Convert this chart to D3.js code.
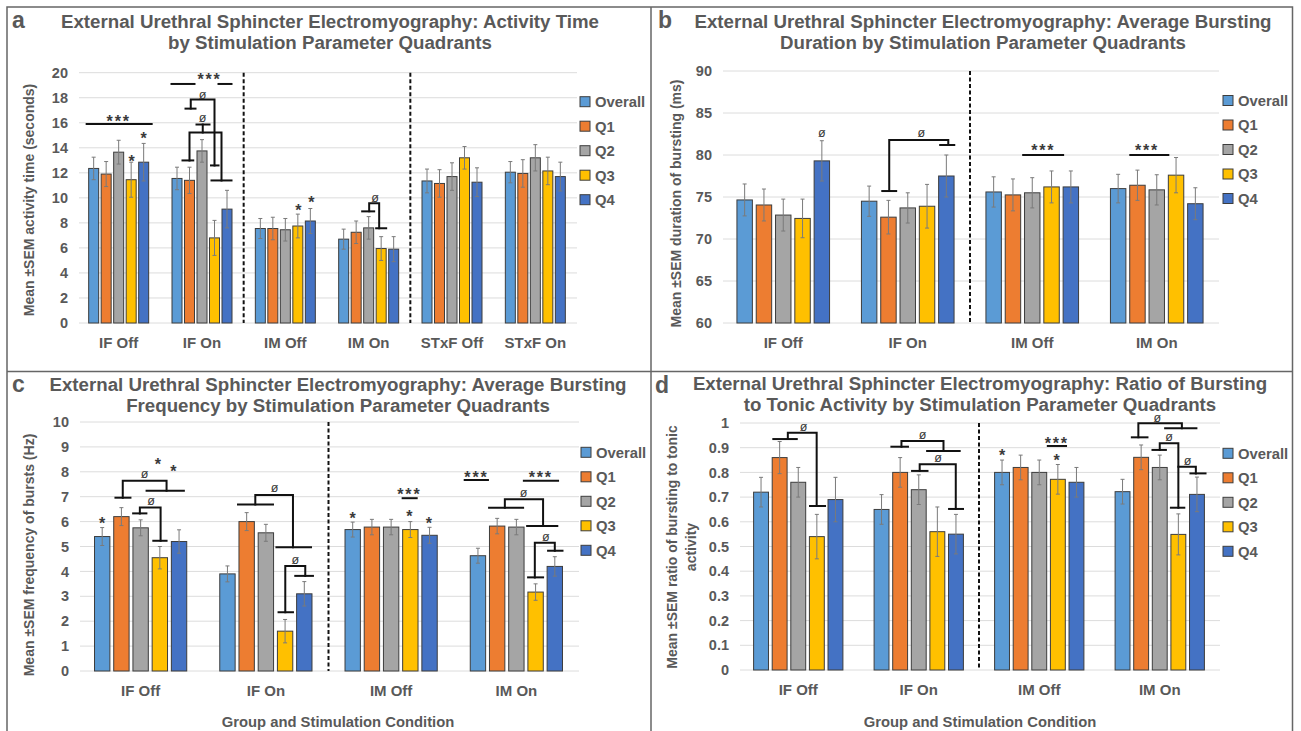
<!DOCTYPE html>
<html>
<head>
<meta charset="utf-8">
<script src="https://cdn.jsdelivr.net/npm/d3@7"></script>
<style>
  body { margin: 0; background: #fff; }
  svg { display: block; font-family: "Liberation Sans", Arial, sans-serif; }
</style>
</head>
<body>
<div id="chart"></div>
<script>
// bar series shared by all four panels
const series = ["Overall", "Q1", "Q2", "Q3", "Q4"];
const seriesColors = ["#5B9BD5", "#ED7D31", "#A5A5A5", "#FFC000", "#4472C4"];

const groupsA = ["IF Off", "IF On", "IM Off", "IM On", "STxF Off", "STxF On"];
const groupsBCD = ["IF Off", "IF On", "IM Off", "IM On"];

// a: activity time (s), one row per group, columns = series
const activityMean = [
  [12.35, 11.9, 13.65, 11.45, 12.85],
  [11.55, 11.4, 13.75, 6.8, 9.1],
  [7.55, 7.55, 7.45, 7.75, 8.15],
  [6.7, 7.25, 7.6, 5.95, 5.9],
  [11.35, 11.15, 11.7, 13.2, 11.25],
  [12.05, 11.95, 13.2, 12.15, 11.7]
];
const activitySem = [
  [0.9, 1.0, 0.95, 1.4, 1.5],
  [0.9, 1.05, 0.9, 1.4, 1.5],
  [0.8, 0.9, 0.9, 0.95, 1.0],
  [0.8, 0.9, 0.9, 0.95, 1.0],
  [0.95, 1.1, 1.1, 0.9, 1.15],
  [0.85, 1.1, 1.05, 1.1, 1.15]
];

// b: bursting duration (ms)
const durationMean = [
  [74.65, 74.05, 72.85, 72.45, 79.3],
  [74.5, 72.6, 73.7, 73.9, 77.5],
  [75.6, 75.25, 75.5, 76.2, 76.2],
  [76.0, 76.4, 75.85, 77.6, 74.2]
];
const durationSem = [
  [1.9, 1.9, 1.9, 2.3, 2.4],
  [1.8, 2.0, 1.8, 2.6, 2.5],
  [1.8, 1.9, 1.8, 1.9, 1.9],
  [1.7, 1.8, 1.8, 2.1, 1.9]
];

// c: bursting frequency (Hz)
const frequencyMean = [
  [5.4, 6.2, 5.75, 4.55, 5.2],
  [3.9, 6.0, 5.55, 1.6, 3.1],
  [5.68, 5.78, 5.78, 5.68, 5.45],
  [4.63, 5.82, 5.78, 3.17, 4.2]
];
const frequencySem = [
  [0.36, 0.36, 0.32, 0.45, 0.47],
  [0.32, 0.36, 0.34, 0.47, 0.49],
  [0.3, 0.31, 0.31, 0.32, 0.32],
  [0.3, 0.31, 0.31, 0.33, 0.39]
];

// d: ratio of bursting to tonic activity
const ratioMean = [
  [0.72, 0.86, 0.76, 0.54, 0.69],
  [0.65, 0.80, 0.73, 0.56, 0.55],
  [0.80, 0.82, 0.80, 0.772, 0.76],
  [0.722, 0.861, 0.82, 0.549, 0.711]
];
const ratioSem = [
  [0.06, 0.065, 0.06, 0.09, 0.09],
  [0.06, 0.06, 0.06, 0.1, 0.08],
  [0.05, 0.05, 0.05, 0.06, 0.06],
  [0.05, 0.05, 0.05, 0.083, 0.07]
];

const ticksA = d3.range(0, 21, 2);
const ticksB = d3.range(60, 91, 5);
const ticksC = d3.range(0, 11, 1);
const ticksD = d3.range(0, 11, 1).map(d => d / 10);

// significance brackets: g = group index, points = [bar position, value]
const bracketsA = [
  {g: 0, pts: [[-0.56, 15.9], [4.64, 15.9]]},
  {g: 1, pts: [[-0.44, 19.1], [1.4, 19.1]]},
  {g: 1, pts: [[3.32, 19.1], [4.36, 19.1]]},
  {g: 1, pts: [[0.68, 17.13], [1.48, 17.13]]},
  {g: 1, pts: [[1.1, 17.13], [1.1, 17.85], [3.0, 17.85], [3.0, 12.59]]},
  {g: 1, pts: [[2.72, 12.59], [3.32, 12.59]]},
  {g: 1, pts: [[1.56, 15.86], [2.6, 15.86]]},
  {g: 1, pts: [[2.06, 15.86], [2.06, 15.22]]},
  {g: 1, pts: [[1.0, 12.99], [1.0, 15.22], [3.56, 15.22], [3.56, 11.39]]},
  {g: 1, pts: [[0.44, 12.99], [1.3, 12.99]]},
  {g: 1, pts: [[2.76, 11.39], [4.36, 11.39]]},
  {g: 3, pts: [[1.48, 8.92], [2.44, 8.92]]},
  {g: 3, pts: [[2.04, 8.92], [2.04, 9.56], [2.84, 9.56], [2.84, 7.57]]},
  {g: 3, pts: [[2.6, 7.57], [3.4, 7.57]]}
];
const marksA = [
  {g: 0, b: 2.0, v: 16.41, t: "***"},
  {g: 0, b: 3.04, v: 13.2, t: "*"},
  {g: 0, b: 4.0, v: 15.0, t: "*"},
  {g: 1, b: 2.6, v: 19.75, t: "***"},
  {g: 1, b: 2.04, v: 18.2, t: "ø"},
  {g: 1, b: 2.04, v: 16.41, t: "ø"},
  {g: 2, b: 3.04, v: 9.24, t: "*"},
  {g: 2, b: 4.08, v: 9.88, t: "*"},
  {g: 3, b: 2.52, v: 9.96, t: "ø"}
];

const bracketsB = [
  {g: 1, pts: [[0.68, 75.71], [1.4, 75.71]]},
  {g: 1, pts: [[1.04, 75.71], [1.04, 81.79], [4.1, 81.79], [4.1, 81.19]]},
  {g: 1, pts: [[3.68, 81.19], [4.41, 81.19]]},
  {g: 2, pts: [[1.53, 80.0], [3.6, 80.0]]},
  {g: 3, pts: [[0.63, 80.0], [2.6, 80.0]]}
];
const marksB = [
  {g: 0, b: 4.0, v: 82.6, t: "ø"},
  {g: 1, b: 2.7, v: 82.6, t: "ø"},
  {g: 2, b: 2.57, v: 80.95, t: "***"},
  {g: 3, b: 1.5, v: 80.95, t: "***"}
];

const bracketsC = [
  {g: 0, pts: [[0.69, 6.96], [1.47, 6.96]]},
  {g: 0, pts: [[1.07, 6.96], [1.07, 7.64], [3.35, 7.64], [3.35, 7.24]]},
  {g: 0, pts: [[2.31, 7.24], [4.25, 7.24]]},
  {g: 0, pts: [[1.61, 6.33], [2.3, 6.33]]},
  {g: 0, pts: [[1.96, 6.33], [1.96, 6.57], [3.04, 6.57], [3.04, 5.23]]},
  {g: 0, pts: [[2.66, 5.23], [3.35, 5.23]]},
  {g: 1, pts: [[0.55, 6.69], [2.37, 6.69]]},
  {g: 1, pts: [[1.45, 6.69], [1.45, 7.07], [3.41, 7.07], [3.41, 4.97]]},
  {g: 1, pts: [[2.55, 4.97], [4.35, 4.97]]},
  {g: 1, pts: [[2.66, 2.36], [3.41, 2.36]]},
  {g: 1, pts: [[3.01, 2.36], [3.01, 4.22], [4.05, 4.22], [4.05, 3.82]]},
  {g: 1, pts: [[3.53, 3.82], [4.45, 3.82]]},
  {g: 2, pts: [[2.6, 6.94], [3.33, 6.94]]},
  {g: 3, pts: [[-0.69, 7.67], [0.52, 7.67]]},
  {g: 3, pts: [[2.39, 7.64], [4.17, 7.64]]},
  {g: 3, pts: [[0.58, 6.56], [2.35, 6.56]]},
  {g: 3, pts: [[1.4, 6.56], [1.4, 6.9], [3.39, 6.9], [3.39, 5.82]]},
  {g: 3, pts: [[2.56, 5.82], [4.13, 5.82]]},
  {g: 3, pts: [[2.61, 3.76], [3.39, 3.76]]},
  {g: 3, pts: [[2.96, 3.76], [2.96, 5.15], [4.0, 5.15], [4.0, 4.83]]},
  {g: 3, pts: [[3.65, 4.83], [4.4, 4.83]]}
];
const marksC = [
  {g: 0, b: 0, v: 6.06, t: "*"},
  {g: 0, b: 2.2, v: 7.9, t: "ø"},
  {g: 0, b: 2.9, v: 8.43, t: "*"},
  {g: 0, b: 3.7, v: 8.14, t: "*"},
  {g: 0, b: 2.55, v: 6.83, t: "ø"},
  {g: 1, b: 2.45, v: 7.34, t: "ø"},
  {g: 1, b: 3.53, v: 4.46, t: "ø"},
  {g: 2, b: 0, v: 6.27, t: "*"},
  {g: 2, b: 2.95, v: 7.23, t: "***"},
  {g: 2, b: 2.95, v: 6.33, t: "*"},
  {g: 2, b: 3.97, v: 6.06, t: "*"},
  {g: 3, b: -0.08, v: 7.9, t: "***"},
  {g: 3, b: 3.27, v: 7.9, t: "***"},
  {g: 3, b: 2.38, v: 7.16, t: "ø"},
  {g: 3, b: 3.53, v: 5.39, t: "ø"}
];

const bracketsD = [
  {g: 0, pts: [[0.66, 0.935], [1.92, 0.935]]},
  {g: 0, pts: [[1.44, 0.935], [1.44, 0.961], [2.99, 0.961], [2.99, 0.664]]},
  {g: 0, pts: [[2.63, 0.664], [3.44, 0.664]]},
  {g: 1, pts: [[0.53, 0.904], [1.42, 0.904]]},
  {g: 1, pts: [[1.07, 0.904], [1.07, 0.927], [3.33, 0.927], [3.33, 0.887]]},
  {g: 1, pts: [[2.45, 0.887], [4.2, 0.887]]},
  {g: 1, pts: [[1.64, 0.806], [2.47, 0.806]]},
  {g: 1, pts: [[2.05, 0.806], [2.05, 0.833], [3.99, 0.833], [3.99, 0.652]]},
  {g: 1, pts: [[3.63, 0.652], [4.38, 0.652]]},
  {g: 2, pts: [[2.46, 0.907], [3.44, 0.907]]},
  {g: 3, pts: [[0.5, 0.942], [1.34, 0.942]]},
  {g: 3, pts: [[0.85, 0.942], [0.85, 0.999], [3.19, 0.999], [3.19, 0.979]]},
  {g: 3, pts: [[2.29, 0.979], [3.97, 0.979]]},
  {g: 3, pts: [[1.61, 0.891], [2.33, 0.891]]},
  {g: 3, pts: [[2.0, 0.891], [2.0, 0.918], [3.0, 0.918], [3.0, 0.657]]},
  {g: 3, pts: [[2.6, 0.657], [3.32, 0.657]]},
  {g: 3, pts: [[3.0, 0.823], [3.94, 0.823], [3.94, 0.796]]},
  {g: 3, pts: [[3.65, 0.796], [4.46, 0.796]]}
];
const marksD = [
  {g: 0, b: 2.28, v: 0.985, t: "ø"},
  {g: 1, b: 2.2, v: 0.951, t: "ø"},
  {g: 1, b: 3.04, v: 0.857, t: "ø"},
  {g: 2, b: 0, v: 0.881, t: "*"},
  {g: 2, b: 2.94, v: 0.93, t: "***"},
  {g: 2, b: 2.94, v: 0.862, t: "*"},
  {g: 3, b: 1.87, v: 1.02, t: "ø"},
  {g: 3, b: 2.5, v: 0.945, t: "ø"},
  {g: 3, b: 3.49, v: 0.846, t: "ø"}
];

const panels = [
  {
    letter: "a", letterPos: [12, 28],
    title: ["External Urethral Sphincter Electromyography: Activity Time", "by Stimulation Parameter Quadrants"],
    titleX: 330, titleY: [28, 49],
    yTitle: ["Mean ±SEM activity time (seconds)"], yTitleX: [34], yTitleY: 200,
    groups: groupsA, mean: activityMean, sem: activitySem,
    domain: [0, 20], ticks: ticksA, fmt: d3.format("d"),
    xRange: [77, 577], yRange: [323, 72.7], pad: 0.25,
    dividers: [2, 4], brackets: bracketsA, marks: marksA,
    legendX: 580, legendY: 101.7, xTitle: null
  },
  {
    letter: "b", letterPos: [658, 28],
    title: ["External Urethral Sphincter Electromyography: Average Bursting", "Duration by Stimulation Parameter Quadrants"],
    titleX: 983, titleY: [28, 49],
    yTitle: ["Mean ±SEM duration of bursting (ms)"], yTitleX: [681], yTitleY: 203.5,
    groups: groupsBCD, mean: durationMean, sem: durationSem,
    domain: [60, 90], ticks: ticksB, fmt: d3.format("d"),
    xRange: [721, 1219], yRange: [323, 71], pad: 0.225,
    dividers: [2], brackets: bracketsB, marks: marksB,
    legendX: 1223, legendY: 100.5, xTitle: null
  },
  {
    letter: "c", letterPos: [12, 392],
    title: ["External Urethral Sphincter Electromyography: Average Bursting", "Frequency by Stimulation Parameter Quadrants"],
    titleX: 338, titleY: [391, 412],
    yTitle: ["Mean ±SEM frequency of bursts (Hz)"], yTitleX: [34], yTitleY: 555,
    groups: groupsBCD, mean: frequencyMean, sem: frequencySem,
    domain: [0, 10], ticks: ticksC, fmt: d3.format("d"),
    xRange: [78, 579], yRange: [671, 422], pad: 0.233,
    dividers: [2], brackets: bracketsC, marks: marksC,
    legendX: 581, legendY: 452.3, xTitle: [338, 727]
  },
  {
    letter: "d", letterPos: [655, 393],
    title: ["External Urethral Sphincter Electromyography: Ratio of Bursting", "to Tonic Activity by Stimulation Parameter Quadrants"],
    titleX: 980, titleY: [390, 411],
    yTitle: ["Mean ±SEM ratio of bursting to tonic", "activity"], yTitleX: [677, 696], yTitleY: 547,
    groups: groupsBCD, mean: ratioMean, sem: ratioSem,
    domain: [0, 1], ticks: ticksD, fmt: d => d3.format("")(+d.toFixed(1)),
    xRange: [738, 1220], yRange: [670, 423], pad: 0.228,
    dividers: [2], brackets: bracketsD, marks: marksD,
    legendX: 1223, legendY: 453.3, xTitle: [980, 727]
  }
];

const textGrey = "#595959";
const svg = d3.select("#chart").append("svg")
  .attr("width", 1301).attr("height", 731);
svg.append("rect").attr("width", 1301).attr("height", 731).attr("fill", "#fff");

// panel frames
const frame = svg.append("g").attr("stroke", "#666").attr("stroke-width", 1.5).attr("fill", "none");
frame.append("path").attr("d", "M7,731V7H1292.5V731");
frame.append("path").attr("d", "M651,7V731");
frame.append("path").attr("d", "M7,371.5H1292.5");

function drawPanel(p) {
  const g = svg.append("g");

  const x0 = d3.scaleBand().domain(p.groups).range(p.xRange)
    .paddingInner(p.pad).paddingOuter(p.pad / 2);
  const x1 = d3.scaleBand().domain(series).range([0, x0.bandwidth()])
    .paddingInner(0.2).paddingOuter(0.1);
  const y = d3.scaleLinear().domain(p.domain).range(p.yRange);
  const bx = (gi, b) => x0(p.groups[gi]) + x1.step() * (b + 0.5);

  // gridlines
  g.append("g").selectAll("line").data(p.ticks).join("line")
    .attr("x1", p.xRange[0] + 2).attr("x2", p.xRange[1])
    .attr("y1", d => y(d)).attr("y2", d => y(d))
    .attr("stroke", "#dcdcdc").attr("stroke-width", 1);

  // y axis labels
  const ya = g.append("g").attr("transform", `translate(${p.xRange[0]},0)`)
    .call(d3.axisLeft(y).tickValues(p.ticks).tickSize(0).tickPadding(9).tickFormat(p.fmt));
  ya.select(".domain").remove();
  ya.selectAll("text").attr("fill", textGrey).style("font-size", "14.5px").style("font-weight", "bold")
    .style("font-family", "'Liberation Sans', Arial, sans-serif");

  // x axis labels
  const xa = g.append("g").attr("transform", `translate(0,${p.yRange[0]})`)
    .call(d3.axisBottom(x0).tickSize(0).tickPadding(14));
  xa.select(".domain").remove();
  xa.selectAll("text").attr("fill", textGrey).style("font-size", "15px").style("font-weight", "bold")
    .style("font-family", "'Liberation Sans', Arial, sans-serif");

  // dashed dividers between stimulation groups
  p.dividers.forEach(k => {
    const xd = (x0(p.groups[k - 1]) + x0.bandwidth() + x0(p.groups[k])) / 2;
    g.append("line").attr("x1", xd).attr("x2", xd)
      .attr("y1", p.yRange[1]).attr("y2", p.yRange[0])
      .attr("stroke", "#111").attr("stroke-width", 2).attr("stroke-dasharray", "4,2.5");
  });

  // bars
  const rows = p.groups.map((grp, gi) => ({grp, gi}));
  const gg = g.append("g").selectAll("g").data(rows).join("g")
    .attr("transform", d => `translate(${x0(d.grp)},0)`);
  gg.selectAll("rect").data(d => series.map((s, i) => ({s, i, v: p.mean[d.gi][i], e: p.sem[d.gi][i]})))
    .join("rect")
    .attr("x", d => x1(d.s)).attr("width", x1.bandwidth())
    .attr("y", d => y(d.v)).attr("height", d => y(p.domain[0]) - y(d.v))
    .attr("fill", d => seriesColors[d.i])
    .attr("stroke", "#3d3d3d").attr("stroke-width", 1);

  // error bars
  const eb = gg.selectAll("g.err").data(d => series.map((s, i) => ({s, i, v: p.mean[d.gi][i], e: p.sem[d.gi][i]})))
    .join("g").attr("class", "err")
    .attr("transform", d => `translate(${x1(d.s) + x1.bandwidth() / 2},0)`)
    .attr("stroke", "#7a7a7a").attr("stroke-width", 1);
  eb.append("line").attr("y1", d => y(d.v - d.e)).attr("y2", d => y(d.v + d.e));
  eb.append("line").attr("x1", -2).attr("x2", 2).attr("y1", d => y(d.v + d.e)).attr("y2", d => y(d.v + d.e));
  eb.append("line").attr("x1", -2).attr("x2", 2).attr("y1", d => y(d.v - d.e)).attr("y2", d => y(d.v - d.e));

  // significance brackets
  const line = d3.line();
  g.append("g").selectAll("path").data(p.brackets).join("path")
    .attr("d", d => line(d.pts.map(([b, v]) => [bx(d.g, b), y(v)])))
    .attr("fill", "none").attr("stroke", "#111").attr("stroke-width", 2)
    .attr("stroke-linecap", "square");

  g.append("g").selectAll("text").data(p.marks).join("text")
    .attr("x", d => bx(d.g, d.b))
    .attr("y", d => y(d.v) + (d.t === "ø" ? 4 : 9))
    .attr("text-anchor", "middle")
    .attr("fill", "#3a3a3a")
    .style("font-size", d => d.t === "ø" ? "12.5px" : "16px")
    .style("font-weight", d => d.t === "ø" ? "normal" : "bold")
    .style("letter-spacing", d => d.t === "***" ? "1.8px" : "0px")
    .text(d => d.t);

  // legend
  const lg = g.append("g").selectAll("g").data(series).join("g")
    .attr("transform", (d, i) => `translate(${p.legendX},${p.legendY + i * 24.5})`);
  lg.append("rect").attr("x", 0).attr("y", -5).attr("width", 10).attr("height", 10)
    .attr("fill", (d, i) => seriesColors[i]).attr("stroke", "#3d3d3d").attr("stroke-width", 1);
  lg.append("text").attr("x", 15).attr("y", 5.3).text(d => d)
    .attr("fill", textGrey).style("font-size", "14.8px").style("font-weight", "bold");

  // titles
  p.title.forEach((t, i) => {
    g.append("text").attr("x", p.titleX).attr("y", p.titleY[i]).attr("text-anchor", "middle")
      .attr("fill", textGrey).style("font-size", "18.7px").style("font-weight", "bold").text(t);
  });
  g.append("text").attr("x", p.letterPos[0]).attr("y", p.letterPos[1])
    .attr("fill", textGrey).style("font-size", "23px").style("font-weight", "bold").text(p.letter);

  p.yTitle.forEach((t, i) => {
    g.append("text").attr("transform", `translate(${p.yTitleX[i]},${p.yTitleY}) rotate(-90)`)
      .attr("text-anchor", "middle").attr("fill", textGrey)
      .style("font-size", "14px").style("font-weight", "bold").text(t);
  });

  if (p.xTitle) {
    g.append("text").attr("x", p.xTitle[0]).attr("y", p.xTitle[1]).attr("text-anchor", "middle")
      .attr("fill", textGrey).style("font-size", "14.8px").style("font-weight", "bold")
      .text("Group and Stimulation Condition");
  }
}

panels.forEach(drawPanel);
</script>
</body>
</html>
